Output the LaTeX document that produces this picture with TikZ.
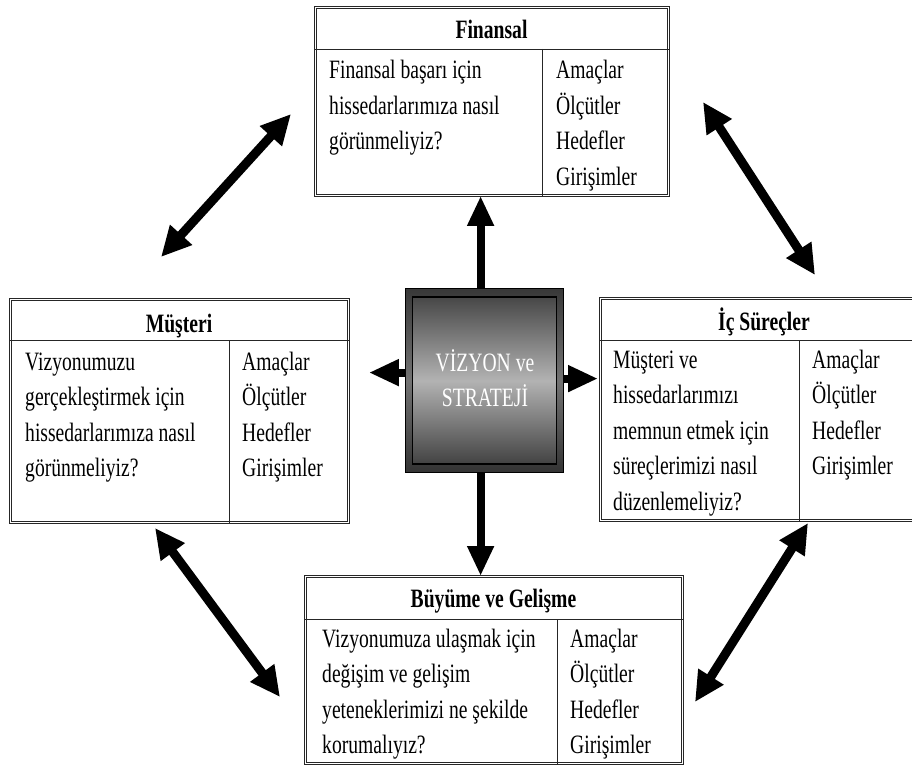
\documentclass[tikz,border=0pt]{standalone}
\usepackage{fontspec}
\setmainfont{Liberation Serif}[FakeStretch=0.74]
\usetikzlibrary{arrows.meta}

\newcommand{\cell}[1]{\parbox[t]{300pt}{\raggedright #1}}

\tikzset{
  panel/.style={rectangle, draw=black!85, line width=0.9pt, double=white,
    double distance=1.6pt, inner sep=0pt, anchor=north west},
  rule/.style={draw=black!85, line width=0.8pt},
  heading/.style={anchor=base, inner sep=0pt,
    font=\fontsize{26.5}{35.5}\selectfont\bfseries},
  bodytxt/.style={anchor=base west, inner sep=0pt,
    font=\fontsize{26.5}{35.5}\selectfont},
  vizouter/.style={rectangle, draw=black, line width=1.2pt, inner sep=0pt,
    anchor=north west, top color=black!78, bottom color=black!80,
    middle color=black!55},
  vizinner/.style={rectangle, draw=black, line width=1.5pt, inner sep=0pt,
    top color=black!72, bottom color=black!74, middle color=black!30},
  viztext/.style={align=center, inner sep=0pt, text=white,
    font=\fontsize{26.5}{35.5}\selectfont},
  pointer/.style={line width=8pt, -{Triangle[width=25pt,length=30pt]}},
  twoway/.style={line width=9pt,
    {Triangle[width=28pt,length=30pt]}-{Triangle[width=28pt,length=30pt]}}
}

\begin{document}
\begin{tikzpicture}[x=1pt, y=-1pt]
\useasboundingbox (0,0) rectangle (912,767);
\fill[white] (0,0) rectangle (912,767);

% ---------- Finansal ----------
\node[panel, minimum width=353pt, minimum height=188pt] (fin) at (315,7) {};
\draw[rule] ([yshift=-42pt]fin.north west) -- ([yshift=-42pt]fin.north east);
\draw[rule] ([xshift=227pt,yshift=-42pt]fin.north west) -- ([xshift=227pt]fin.south west);
\node[heading] (finT) at (491.5,39) {Finansal};
\node[bodytxt] (finQ) at (329,79) {\cell{Finansal başarı için\\hissedarlarımıza nasıl\\görünmeliyiz?}};
\node[bodytxt] (finL) at (556,79) {\cell{Amaçlar\\Ölçütler\\Hedefler\\Girişimler}};

% ---------- Müşteri ----------
\node[panel, minimum width=338pt, minimum height=223pt] (mus) at (10,299) {};
\draw[rule] ([yshift=-41pt]mus.north west) -- ([yshift=-41pt]mus.north east);
\draw[rule] ([xshift=219pt,yshift=-41pt]mus.north west) -- ([xshift=219pt]mus.south west);
\node[heading] (musT) at (179,332) {Müşteri};
\node[bodytxt] (musQ) at (25,370) {\cell{Vizyonumuzu\\gerçekleştirmek için\\hissedarlarımıza nasıl\\görünmeliyiz?}};
\node[bodytxt] (musL) at (242,370) {\cell{Amaçlar\\Ölçütler\\Hedefler\\Girişimler}};

% ---------- İç Süreçler ----------
\node[panel, minimum width=328pt, minimum height=222pt] (ic) at (600,298) {};
\draw[rule] ([yshift=-42pt]ic.north west) -- ([yshift=-42pt]ic.north east);
\draw[rule] ([xshift=199pt,yshift=-42pt]ic.north west) -- ([xshift=199pt]ic.south west);
\node[heading] (icT) at (764,330) {İç Süreçler};
\node[bodytxt] (icQ) at (613,368) {\cell{Müşteri ve\\hissedarlarımızı\\memnun etmek için\\süreçlerimizi nasıl\\düzenlemeliyiz?}};
\node[bodytxt] (icL) at (812,368) {\cell{Amaçlar\\Ölçütler\\Hedefler\\Girişimler}};

% ---------- Büyüme ve Gelişme ----------
\node[panel, minimum width=377pt, minimum height=187pt] (buy) at (305,576) {};
\draw[rule] ([yshift=-43pt]buy.north west) -- ([yshift=-43pt]buy.north east);
\draw[rule] ([xshift=252pt,yshift=-43pt]buy.north west) -- ([xshift=252pt]buy.south west);
\node[heading] (buyT) at (493.5,607) {Büyüme ve Gelişme};
\node[bodytxt] (buyQ) at (322,647) {\cell{Vizyonumuza ulaşmak için\\değişim ve gelişim\\yeteneklerimizi ne şekilde\\korumalıyız?}};
\node[bodytxt] (buyL) at (570,647) {\cell{Amaçlar\\Ölçütler\\Hedefler\\Girişimler}};

% ---------- Vizyon ve Strateji ----------
\node[vizouter, minimum width=158pt, minimum height=184pt] (viz) at (405,288) {};
\node[vizinner, minimum width=144pt, minimum height=167pt] (vizin) at (viz.center) {};
\node[viztext] (vizT) at (485,378) {VİZYON ve\\STRATEJİ};

% ---------- arrows from the centre ----------
\draw[pointer] ([xshift=-4pt]viz.north) -- ([xshift=-4pt]viz.north |- fin.south);
\draw[pointer] ([xshift=-4pt]viz.south) -- ([xshift=-4pt]viz.south |- buy.north);
\draw[pointer, shorten >=20pt] ([yshift=8pt]viz.west) -- ([yshift=8pt]mus.east |- viz.west);
\draw[pointer, shorten >=2pt] ([yshift=2pt]viz.east) -- ([yshift=2pt]ic.west |- viz.east);

% ---------- arrows between the perspectives ----------
\coordinate (ulA) at (161,257);
\coordinate (ulB) at (291,114);
\coordinate (urA) at (703,102);
\coordinate (urB) at (815,275);
\coordinate (llA) at (155,528);
\coordinate (llB) at (280,697);
\coordinate (lrA) at (808,523);
\coordinate (lrB) at (695,702);
\draw[twoway] (ulA) -- (ulB);
\draw[twoway] (urA) -- (urB);
\draw[twoway] (llA) -- (llB);
\draw[twoway] (lrA) -- (lrB);
\end{tikzpicture}
\end{document}
